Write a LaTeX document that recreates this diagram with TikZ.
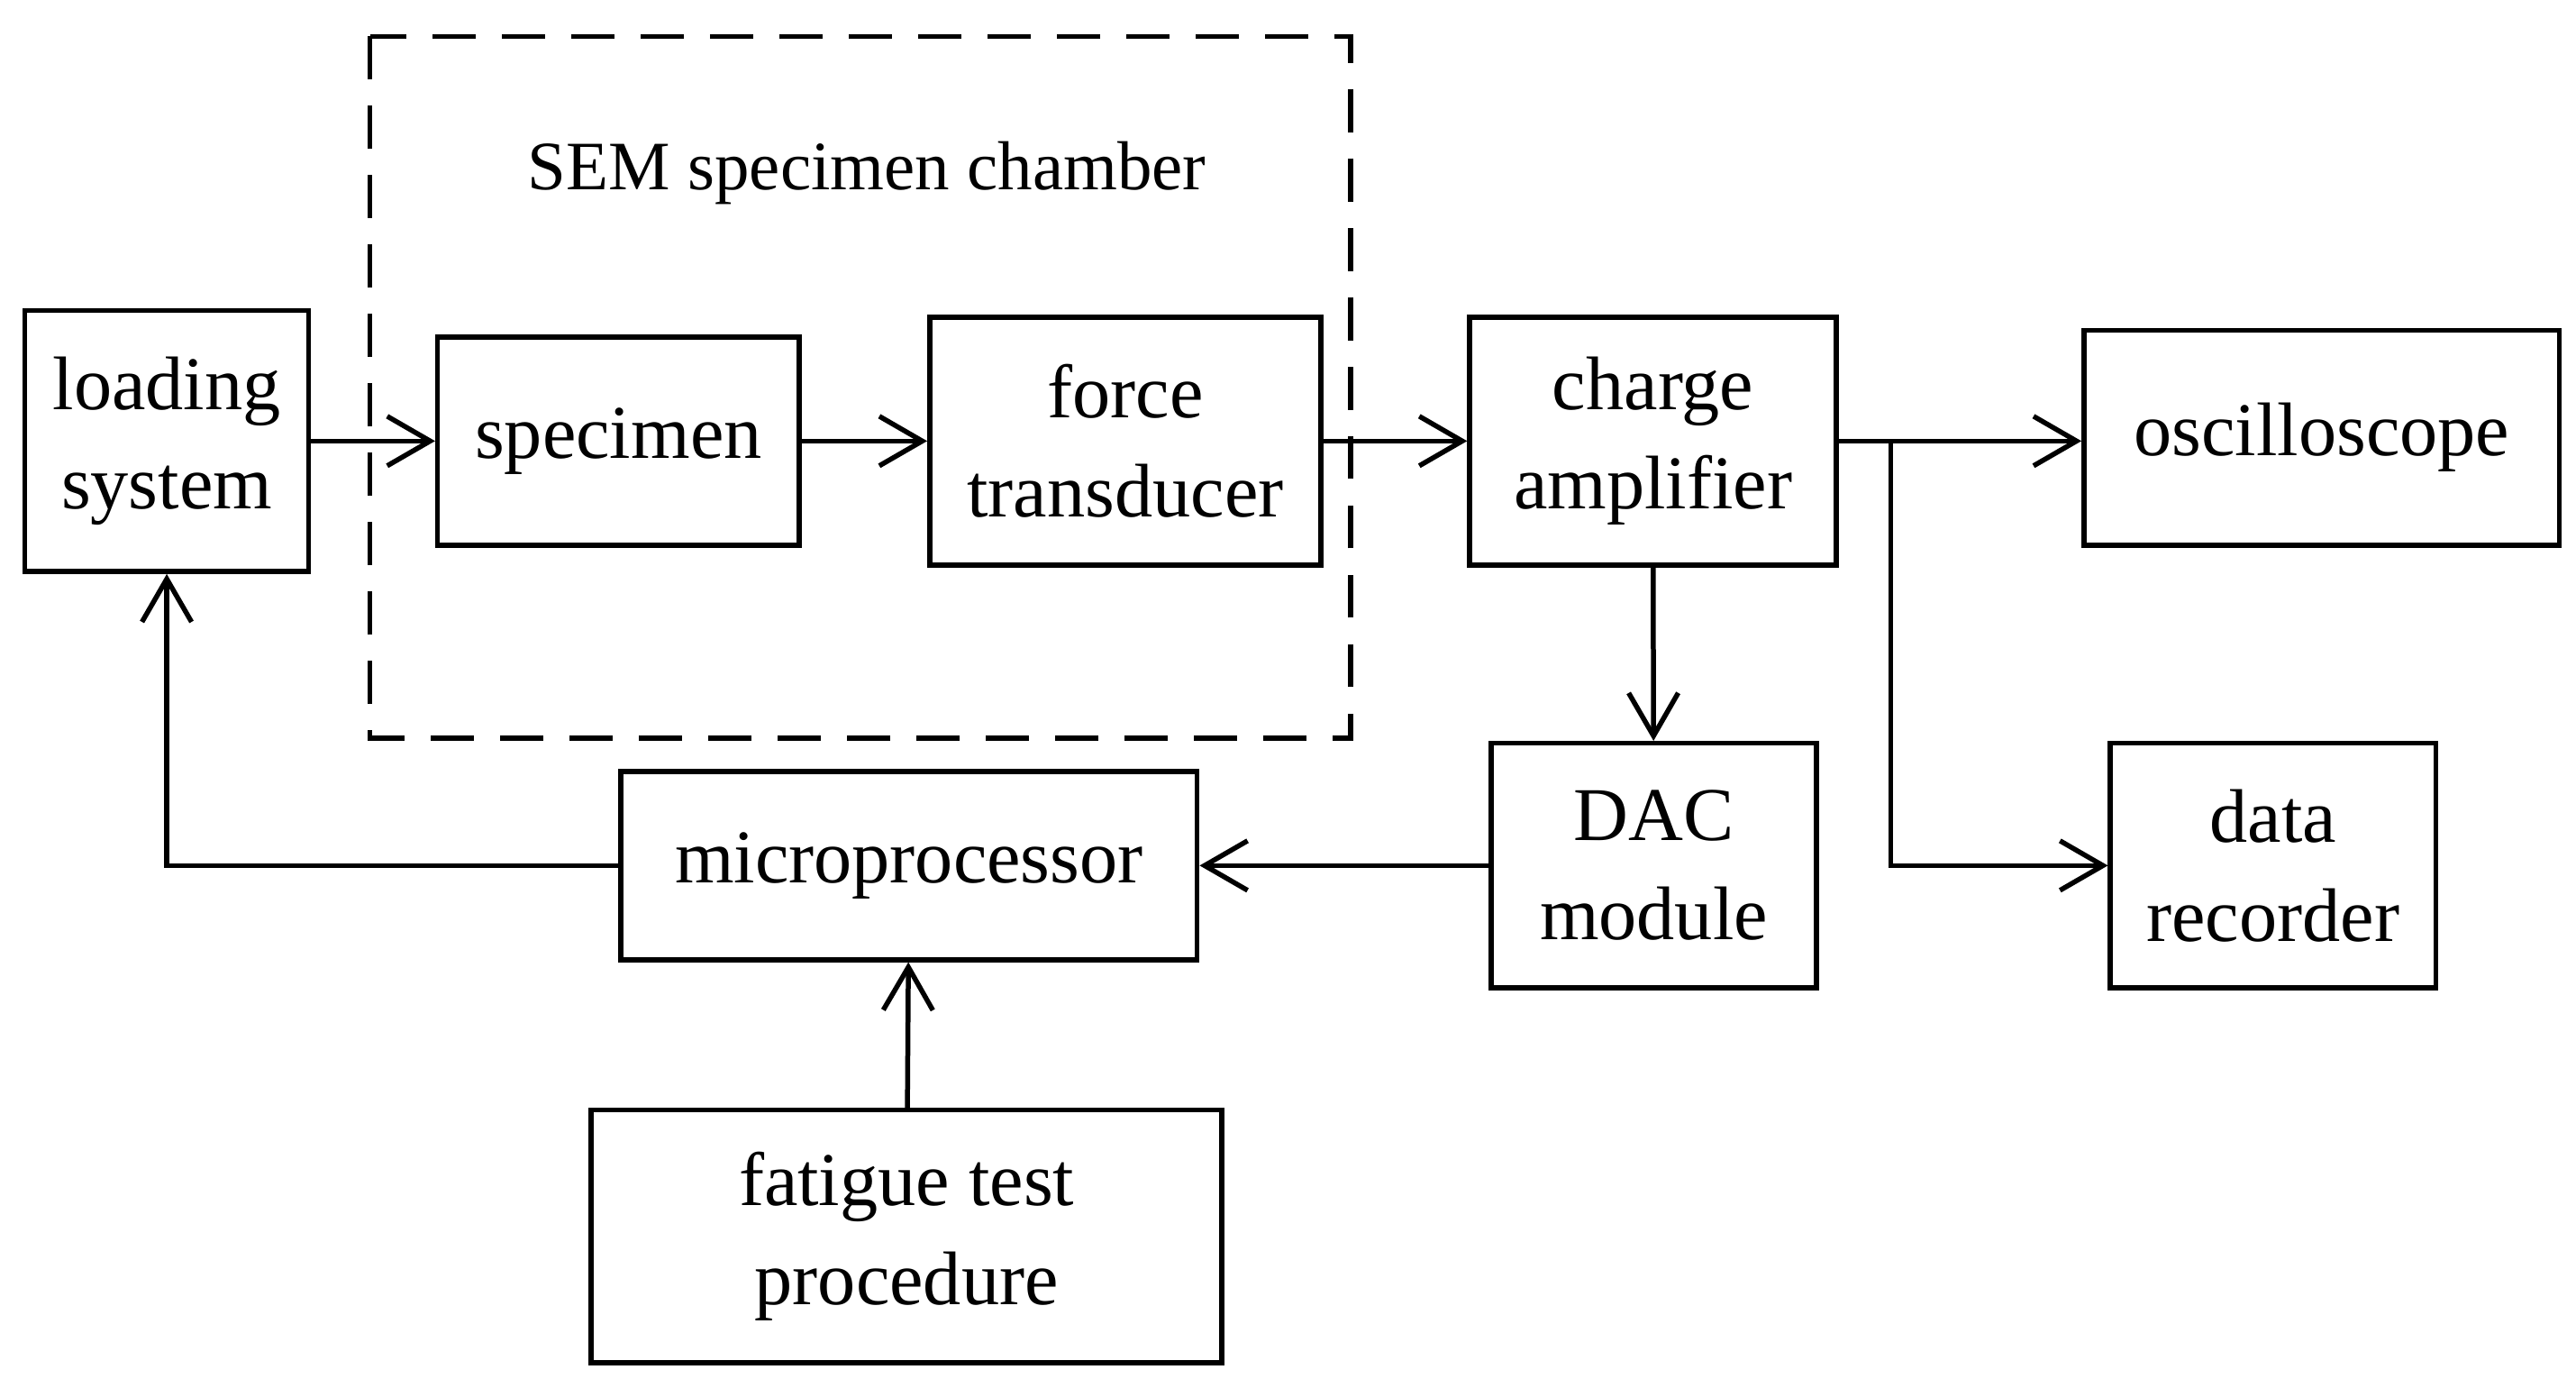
\documentclass[tikz,border=0pt]{standalone}
\usepackage{fontspec}
\setmainfont{Liberation Serif}
\usetikzlibrary{arrows.meta}
\tikzset{
  blk/.style={draw,line width=3pt,align=center,inner sep=0pt,font=\fontsize{46}{60}\selectfont},
  arr/.style={line width=3pt,-{Straight Barb[length=26pt,width=30pt,line width=3pt]}}
}
\begin{document}
\begin{tikzpicture}[x=1pt,y=1pt,yscale=-1,xscale=1]
\useasboundingbox (0,0) rectangle (1560,840);

%Dashed chamber
\draw [line width=3pt,dash pattern=on 26pt off 16pt] (224,22) rectangle (818,447);
\node [font=\fontsize{42}{50}\selectfont] (sem) at (525,105) {SEM specimen chamber};

%Blocks
\node [blk,minimum width=172,minimum height=158] (load) at (101,267) {loading\\system};
\node [blk,minimum width=219,minimum height=126] (spec) at (374.5,267) {specimen};
\node [blk,minimum width=237,minimum height=150] (force) at (681.5,267) {force\\transducer};
\node [blk,minimum width=222,minimum height=150] (charge) at (1001,267) {charge\\amplifier};
\node [blk,minimum width=288,minimum height=130] (osc) at (1406,265) {oscilloscope};
\node [blk,minimum width=197,minimum height=148] (rec) at (1376.5,524) {data\\recorder};
\node [blk,minimum width=197,minimum height=148] (dac) at (1001.5,524) {DAC\\module};
\node [blk,minimum width=349,minimum height=114] (micro) at (550.5,524) {microprocessor};
\node [blk,minimum width=382,minimum height=153] (fat) at (549,748.5) {fatigue test\\procedure};

%Connectors
\coordinate (br) at (1145,267);
\coordinate (lc) at (101,524);
\draw [arr] (load) -- (spec);
\draw [arr] (spec) -- (force);
\draw [arr] (force) -- (charge);
\draw [line width=3pt] (charge.east) -- (br);
\draw [arr] (br) -- (osc.west |- br);
\draw [arr] (br) |- (rec.west);
\draw [arr] (charge) -- (dac);
\draw [arr] (dac) -- (micro);
\draw [arr] (micro.west) -- (lc) -- (load.south);
\draw [arr] (fat) -- (micro);

\end{tikzpicture}
\end{document}
